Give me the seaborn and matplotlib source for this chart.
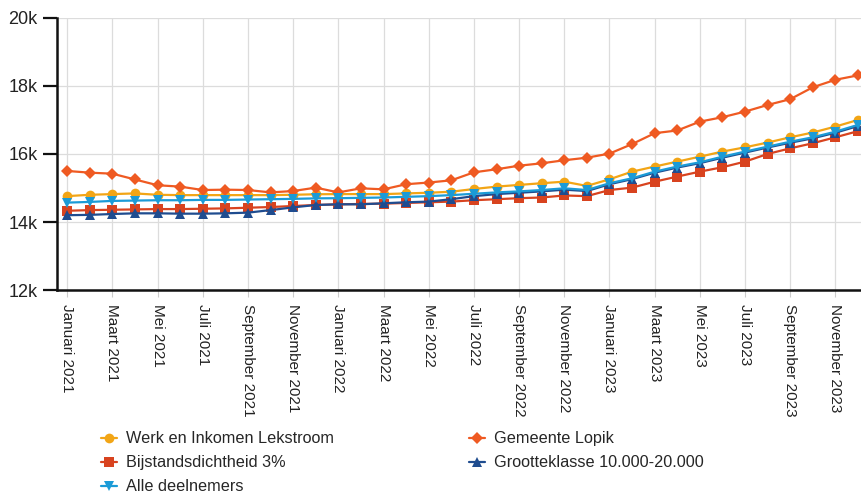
import matplotlib
matplotlib.use("Agg")
import matplotlib.pyplot as plt
import seaborn as sns
import pandas as pd
from matplotlib.lines import Line2D

month_names = ["Januari", "Februari", "Maart", "April", "Mei", "Juni", "Juli",
               "Augustus", "September", "Oktober", "November", "December"]
years = [2021, 2022, 2023]
months = [f"{m} {y}" for y in years for m in month_names]

lekstroom = [14760, 14800, 14820, 14840, 14800, 14790, 14790, 14790, 14790, 14790, 14800, 14815,
             14820, 14820, 14820, 14840, 14860, 14890, 14970, 15040, 15090, 15140, 15185, 15060,
             15255, 15480, 15630, 15775, 15920, 16070, 16195, 16335, 16490, 16630, 16805, 17000]
lopik = [15500, 15450, 15420, 15250, 15080, 15040, 14940, 14950, 14940, 14870, 14910, 15010,
         14870, 14990, 14960, 15110, 15160, 15225, 15460, 15550, 15655, 15725, 15815, 15890,
         16010, 16290, 16610, 16690, 16950, 17080, 17245, 17440, 17610, 17960, 18180, 18310]
bijstand = [14330, 14350, 14360, 14370, 14380, 14380, 14390, 14400, 14420, 14440, 14470, 14500,
            14520, 14530, 14540, 14560, 14580, 14600, 14640, 14670, 14700, 14720, 14780, 14760,
            14940, 15010, 15185, 15335, 15480, 15610, 15775, 16000, 16165, 16315, 16490, 16670]
grootteklasse = [14200, 14210, 14235, 14255, 14255, 14245, 14245, 14255, 14275, 14350, 14430, 14500,
                 14520, 14520, 14550, 14580, 14600, 14670, 14760, 14820, 14860, 14900, 14950, 14910,
                 15110, 15260, 15450, 15600, 15730, 15890, 16040, 16190, 16330, 16460, 16625, 16820]
alle = [14570, 14590, 14620, 14630, 14640, 14640, 14650, 14650, 14660, 14670, 14680, 14695,
        14700, 14710, 14720, 14740, 14760, 14790, 14830, 14870, 14900, 14940, 14990, 14940,
        15140, 15285, 15480, 15630, 15755, 15920, 16070, 16215, 16360, 16490, 16655, 16855]

series_names = ["Werk en Inkomen Lekstroom", "Gemeente Lopik", "Bijstandsdichtheid 3%",
                "Grootteklasse 10.000-20.000", "Alle deelnemers"]
series_values = [lekstroom, lopik, bijstand, grootteklasse, alle]
colors = ["#f2a516", "#ef5a22", "#d8431f", "#1f4c8f", "#1b9bd7"]
markers = ["o", "D", "s", "^", "v"]
msizes = [7, 6, 6.5, 7, 7]

ytick_vals = [12000, 14000, 16000, 18000, 20000]
ytick_labels = ["12k", "14k", "16k", "18k", "20k"]

sns.set_theme(style="white")
plt.rcParams["font.family"] = ["Liberation Sans", "DejaVu Sans"]

fig = plt.figure(figsize=(8.61, 4.95), dpi=100)
ax = fig.add_axes([0.0662, 0.414, 0.9338, 0.55])

x = list(range(len(months)))
handles = []
for name, vals, c, m, ms in zip(series_names, series_values, colors, markers, msizes):
    df = pd.DataFrame({"x": x, "y": vals})
    sns.lineplot(data=df, x="x", y="y", ax=ax, color=c, marker=m, markersize=ms,
                 markeredgewidth=0, linewidth=1.6, clip_on=False, zorder=3)
    handles.append(Line2D([0], [0], color=c, marker=m, markersize=ms,
                          markeredgewidth=0, linewidth=1.6))

ax.set_xlim(-0.45, 35.13)
ax.set_ylim(12000, 20000)
ax.set_yticks(ytick_vals)
ax.set_yticklabels(ytick_labels, fontsize=13, color="#222222")
ax.set_xticks(x[::2])
ax.set_xticklabels(months[::2], rotation=-90, fontsize=11, color="#222222",
                   ha="center", va="top")
ax.set_xlabel("")
ax.set_ylabel("")

ax.grid(True, color="#dcdcdc", linewidth=0.9)
ax.set_axisbelow(True)
for s in ["top", "right"]:
    ax.spines[s].set_visible(False)
ax.spines["left"].set_color("#111111")
ax.spines["left"].set_linewidth(1.8)
ax.spines["bottom"].set_color("#111111")
ax.spines["bottom"].set_linewidth(1.8)
ax.tick_params(axis="y", which="major", left=True, length=10, width=1.6, color="#111111", pad=4)
ax.tick_params(axis="x", which="major", bottom=True, length=5, width=0.8, color="#cccccc", pad=5)

order = [0, 2, 4, 1, 3]
fig.legend([handles[i] for i in order], [series_names[i] for i in order],
           loc="upper left", bbox_to_anchor=(0.108, 0.145), ncol=2,
           frameon=False, fontsize=11.7, handlelength=1.0, handletextpad=0.55,
           columnspacing=8.3, labelspacing=0.55, borderpad=0)

fig.savefig("out.png", dpi=100)
